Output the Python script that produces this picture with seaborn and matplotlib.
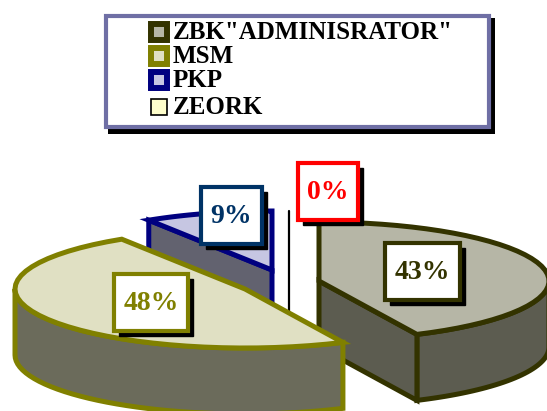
import numpy as np
import matplotlib
matplotlib.use("Agg")
import matplotlib.pyplot as plt
from matplotlib.patches import Polygon, Rectangle
import seaborn as sns

# Data
categories = ['ZBK"ADMINISRATOR"', "MSM", "PKP", "ZEORK"]
shares = [43, 48, 9, 0]

# Styles
top_colors = sns.color_palette(["#B6B6A6", "#E0E0C3", "#C6C6E2", "#FFFFCC"])
side_colors = sns.color_palette(["#5C5C50", "#6B6B5B", "#62626F", "#6B6B5B"])
edge_colors = sns.color_palette(["#333300", "#808000", "#000080", "#000000"])
label_colors = ["#333300", "#808000", "#003366", "#FF0000"]

# Layout, in pixels
W, H = 547, 411
centers = [(319, 281), (245, 289), (272, 270), (289, 270)]
RX, RY, DEPTH = 230, 59, 66
EDGE = 3.6
label_boxes = [(385, 243, 75, 57), (114, 274, 74, 57), (201, 187, 61, 57), (298, 163, 60, 57)]
legend_rows = [32.5, 56.5, 80.5, 107]

sns.set_theme(style="white")
plt.rcParams["font.family"] = ["Liberation Serif", "DejaVu Serif"]

fig = plt.figure(figsize=(W / 100, H / 100), dpi=100, facecolor="white")
ax = fig.add_axes([0, 0, 1, 1])
ax.set_xlim(0, W)
ax.set_ylim(H, 0)
ax.axis("off")


def arc(c, t0, t1, n=40):
    t = np.radians(np.linspace(t0, t1, n))
    return np.column_stack([c[0] + RX * np.cos(t), c[1] - RY * np.sin(t)])


def face(points, fc, ec, z, closed=True):
    ax.add_patch(Polygon(points, closed=closed, facecolor=fc, edgecolor=ec, lw=EDGE,
                         joinstyle="miter", zorder=z))


def wall(points, fc, ec, z):
    pts = np.asarray(points)
    low = pts + [0, DEPTH]
    face(np.vstack([pts, low[::-1]]), fc, ec, z)


# Slice angles follow the shares, clockwise from the top
ends = 90 - np.cumsum(shares) * 3.6
starts = np.concatenate([[90], ends[:-1]])
zorders = [2, 4, 3, 2.5]

for i, share in enumerate(shares):
    c = np.array(centers[i], float)
    z = zorders[i]
    t0, t1 = starts[i], ends[i]
    if share == 0:
        tip = arc(c, t0, t0, 2)[0]
        ax.plot([tip[0], c[0]], [tip[1], c[1] + DEPTH], color=edge_colors[i], lw=1.6, zorder=z)
        continue
    rim = arc(c, t0, t1)
    # outer wall: only the part of the rim facing the viewer
    lo, hi = min(t0, t1), max(t0, t1)
    if min(hi, 0) > max(lo, -180):
        wall(arc(c, max(lo, -180), min(hi, 0)), side_colors[i], edge_colors[i], z)
    # cut faces turned to the viewer
    if i == 0:
        wall([c, rim[-1]], side_colors[i], edge_colors[i], z)
    if i == 2:
        wall([c, rim[0]], side_colors[i], edge_colors[i], z)
    face(np.vstack([c, rim]), top_colors[i], edge_colors[i], z + 0.1)

# Value labels
for i, share in enumerate(shares):
    x, y, w, h = label_boxes[i]
    ax.add_patch(Rectangle((x + 5, y + 5), w, h, facecolor="black", edgecolor="black", lw=1, zorder=8))
    ax.add_patch(Rectangle((x, y), w, h, facecolor="white", edgecolor=label_colors[i], lw=3, zorder=9,
                           joinstyle="miter"))
    ax.text(x + w / 2, y + h / 2 + 1, f"{share}%", color=label_colors[i], fontsize=20, fontweight="bold",
            ha="center", va="center", zorder=10)

# Legend
ax.add_patch(Rectangle((108, 18), 387, 116, facecolor="black", edgecolor="black", lw=0, zorder=8))
ax.add_patch(Rectangle((106, 16), 383, 111, facecolor="white", edgecolor="#6F6FA5", lw=3, zorder=9,
                       joinstyle="miter"))
for i, name in enumerate(categories):
    y = legend_rows[i]
    if i < 3:
        ax.add_patch(Rectangle((151, y - 8), 16, 16, facecolor=top_colors[i], edgecolor=edge_colors[i],
                               lw=4.3, zorder=10, joinstyle="miter"))
    else:
        ax.add_patch(Rectangle((151, y - 8), 16, 16, facecolor=top_colors[i], edgecolor="black",
                               lw=1.2, zorder=10, joinstyle="miter"))
    ax.text(173, y, name, color="black", fontsize=18, fontweight="bold", ha="left", va="center", zorder=10)

fig.savefig("out.png", dpi=100, facecolor="white")
